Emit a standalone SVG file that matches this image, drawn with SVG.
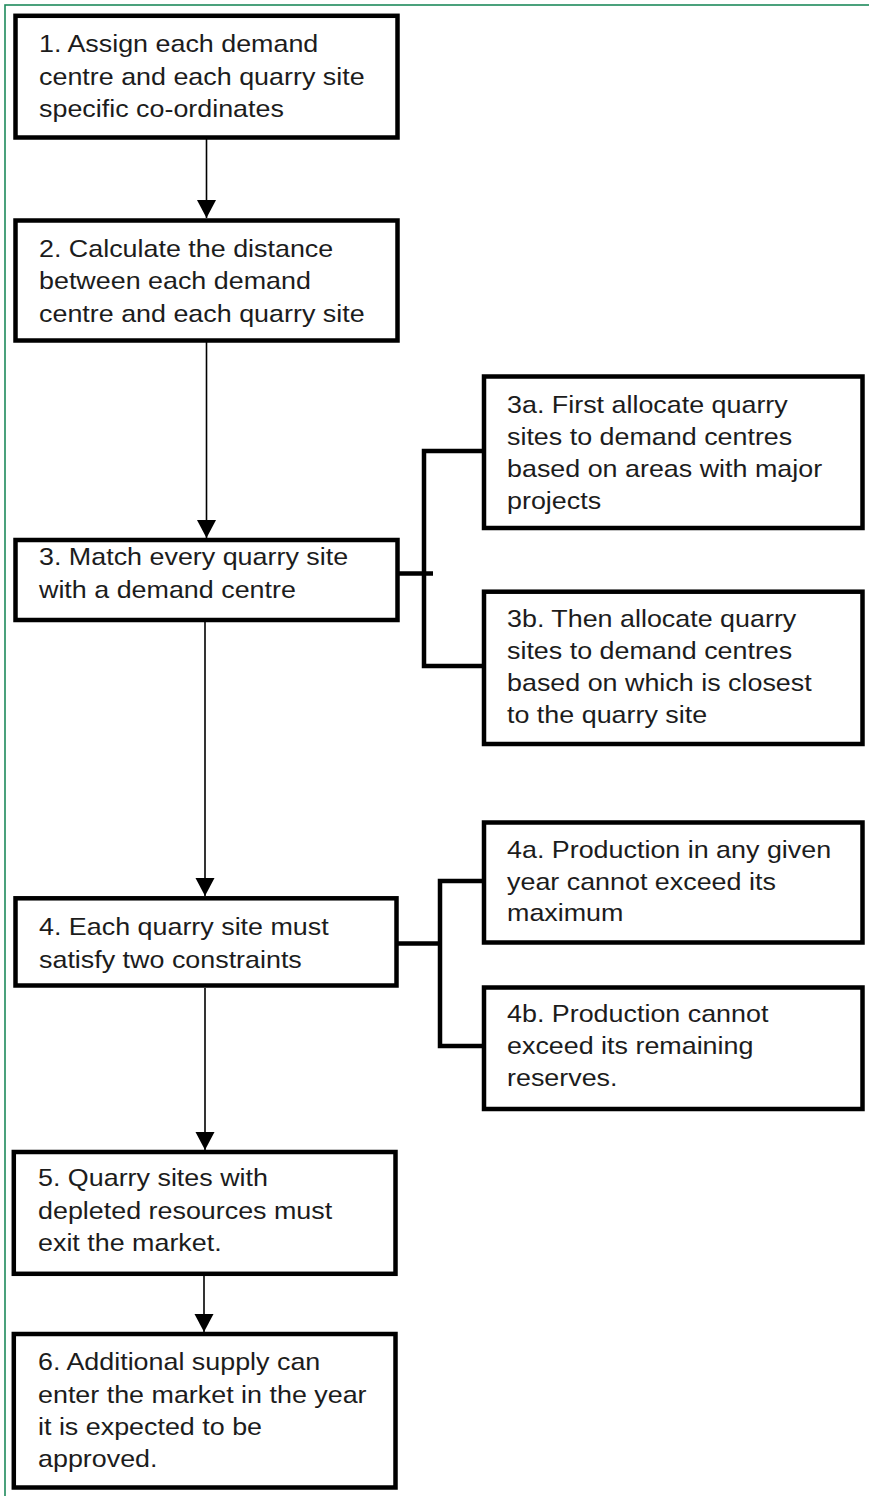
<svg xmlns="http://www.w3.org/2000/svg" width="869" height="1496" viewBox="0 0 869 1496">
<style>
.box{fill:#fff;stroke:#000;stroke-width:4.5}
.t{font-family:"Liberation Sans",Arial,sans-serif;font-size:24px;fill:#1c1c1c}
.arr{stroke:#000;stroke-width:1.6;fill:none}
.br{stroke:#000;stroke-width:4.5;fill:none}
</style>
<defs>
<marker id="ah" markerUnits="userSpaceOnUse" markerWidth="20" markerHeight="20" refX="18" refY="9.5" orient="auto">
<path d="M0,0 L18,9.5 L0,19 Z" fill="#000"/>
</marker>
</defs>
<rect x="0" y="0" width="869" height="1496" fill="#fff"/>
<rect x="5" y="5" width="880" height="1510" fill="none" stroke="#1e8a5c" stroke-width="1.6"/>

<g id="connectors">
<line class="arr" x1="206.5" y1="139" x2="206.5" y2="218" marker-end="url(#ah)"/>
<line class="arr" x1="206.5" y1="342" x2="206.5" y2="538" marker-end="url(#ah)"/>
<line class="arr" x1="205" y1="622" x2="205" y2="896" marker-end="url(#ah)"/>
<line class="arr" x1="205" y1="988" x2="205" y2="1150" marker-end="url(#ah)"/>
<line class="arr" x1="204" y1="1276" x2="204" y2="1332" marker-end="url(#ah)"/>
<path class="br" d="M398,573.5 H433 M484,451 H424 V666 H484"/>
<path class="br" d="M397,943.5 H440 M484,881 H440 V1046 H484"/>
</g>

<g id="n1">
<rect class="box" x="15.5" y="15.8" width="382" height="121.7"/>
<text class="t" transform="translate(39 0) scale(1.12 1)"><tspan x="0" y="52.5">1. Assign each demand</tspan><tspan x="0" y="84.6">centre and each quarry site</tspan><tspan x="0" y="116.8">specific co-ordinates</tspan></text>
</g>
<g id="n2">
<rect class="box" x="15.5" y="220.5" width="382" height="120"/>
<text class="t" transform="translate(39 0) scale(1.12 1)"><tspan x="0" y="257">2. Calculate the distance</tspan><tspan x="0" y="289.5">between each demand</tspan><tspan x="0" y="322">centre and each quarry site</tspan></text>
</g>
<g id="n3">
<rect class="box" x="15.5" y="540" width="382" height="80"/>
<text class="t" transform="translate(39 0) scale(1.12 1)"><tspan x="0" y="565.5">3. Match every quarry site</tspan><tspan x="0" y="597.8">with a demand centre</tspan></text>
</g>
<g id="n3a">
<rect class="box" x="484" y="376.5" width="378.5" height="151.5"/>
<text class="t" transform="translate(507 0) scale(1.12 1)"><tspan x="0" y="412.8">3a. First allocate quarry</tspan><tspan x="0" y="445">sites to demand centres</tspan><tspan x="0" y="477">based on areas with major</tspan><tspan x="0" y="509">projects</tspan></text>
</g>
<g id="n3b">
<rect class="box" x="484" y="591.7" width="378.5" height="152.3"/>
<text class="t" transform="translate(507 0) scale(1.12 1)"><tspan x="0" y="626.8">3b. Then allocate quarry</tspan><tspan x="0" y="659">sites to demand centres</tspan><tspan x="0" y="691">based on which is closest</tspan><tspan x="0" y="723">to the quarry site</tspan></text>
</g>
<g id="n4">
<rect class="box" x="15.5" y="898.3" width="381" height="87.2"/>
<text class="t" transform="translate(39 0) scale(1.12 1)"><tspan x="0" y="935.5">4. Each quarry site must</tspan><tspan x="0" y="967.8">satisfy two constraints</tspan></text>
</g>
<g id="n4a">
<rect class="box" x="484" y="822.5" width="378.5" height="120"/>
<text class="t" transform="translate(507 0) scale(1.12 1)"><tspan x="0" y="857.8">4a. Production in any given</tspan><tspan x="0" y="890">year cannot exceed its</tspan><tspan x="0" y="921">maximum</tspan></text>
</g>
<g id="n4b">
<rect class="box" x="484" y="987.5" width="378.5" height="121.5"/>
<text class="t" transform="translate(507 0) scale(1.12 1)"><tspan x="0" y="1021.8">4b. Production cannot</tspan><tspan x="0" y="1054.3">exceed its remaining</tspan><tspan x="0" y="1086.5">reserves.</tspan></text>
</g>
<g id="n5">
<rect class="box" x="13.8" y="1152" width="381.7" height="121.8"/>
<text class="t" transform="translate(38 0) scale(1.12 1)"><tspan x="0" y="1186.5">5. Quarry sites with</tspan><tspan x="0" y="1218.8">depleted resources must</tspan><tspan x="0" y="1251">exit the market.</tspan></text>
</g>
<g id="n6">
<rect class="box" x="13.8" y="1334" width="381.7" height="153.5"/>
<text class="t" transform="translate(38 0) scale(1.12 1)"><tspan x="0" y="1370.5">6. Additional supply can</tspan><tspan x="0" y="1402.8">enter the market in the year</tspan><tspan x="0" y="1435">it is expected to be</tspan><tspan x="0" y="1467.3">approved.</tspan></text>
</g>
</svg>
